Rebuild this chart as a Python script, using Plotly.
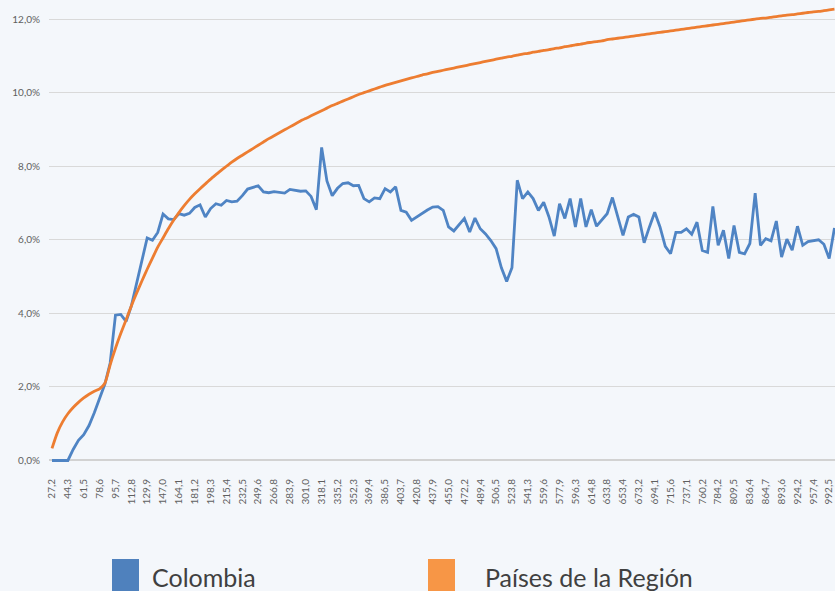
import plotly.graph_objects as go

tick_labels = ["27,2","44,3","61,5","78,6","95,7","112,8","129,9","147,0","164,1","181,2",
               "198,3","215,4","232,5","249,6","266,8","283,9","301,0","318,1","335,2","352,3",
               "369,4","386,5","403,7","420,8","437,9","455,0","472,2","489,4","506,5","523,8",
               "541,3","559,6","577,9","596,3","614,8","633,8","653,4","673,2","694,1","715,6",
               "737,1","760,2","784,2","809,5","836,4","864,7","893,6","924,2","957,4","992,5"]

y_tick_vals = [0, 2, 4, 6, 8, 10, 12]
y_tick_text = ["0,0%", "2,0%", "4,0%", "6,0%", "8,0%", "10,0%", "12,0%"]

colombia = [0, 0, 0, 0, 0.3, 0.55, 0.7, 0.95, 1.3, 1.7,
            2.08, 2.65, 3.95, 3.97, 3.78, 4.2, 4.8, 5.4, 6.05, 5.99,
            6.2, 6.7, 6.57, 6.55, 6.71, 6.67, 6.72, 6.88, 6.95, 6.62,
            6.85, 6.98, 6.94, 7.07, 7.03, 7.05, 7.2, 7.38, 7.42, 7.47,
            7.3, 7.28, 7.31, 7.29, 7.27, 7.37, 7.35, 7.32, 7.33, 7.18,
            6.82, 8.51, 7.6, 7.2, 7.4, 7.53, 7.55, 7.47, 7.48, 7.12,
            7.03, 7.14, 7.12, 7.39, 7.3, 7.44, 6.8, 6.75, 6.53, 6.63,
            6.73, 6.81, 6.89, 6.9, 6.8, 6.35, 6.24, 6.4, 6.58, 6.21,
            6.59, 6.3, 6.16, 5.98, 5.76, 5.24, 4.87, 5.24, 7.62, 7.12,
            7.3, 7.12, 6.8, 7.02, 6.62, 6.1, 6.98, 6.58, 7.12, 6.35,
            7.12, 6.35, 6.82, 6.37, 6.55, 6.71, 7.15, 6.64, 6.12, 6.62,
            6.69, 6.62, 5.92, 6.35, 6.75, 6.35, 5.82, 5.62, 6.2, 6.2,
            6.3, 6.15, 6.48, 5.71, 5.66, 6.91, 5.85, 6.26, 5.49, 6.39,
            5.66, 5.62, 5.9, 7.27, 5.85, 6.03, 5.97, 6.51, 5.53, 6.02,
            5.72, 6.37, 5.85, 5.95, 5.98, 6.0, 5.88, 5.49, 6.32]

region = [0.33, 0.75, 1.05, 1.27, 1.44, 1.58, 1.7, 1.8, 1.88, 1.95,
          2.1, 2.6, 3.05, 3.45, 3.82, 4.2, 4.55, 4.88, 5.2, 5.5,
          5.8, 6.05, 6.3, 6.53, 6.74, 6.93, 7.1, 7.25, 7.39, 7.52,
          7.65, 7.77, 7.89, 8.0, 8.11, 8.21, 8.3, 8.39, 8.48, 8.57,
          8.66, 8.75, 8.83, 8.91, 8.99, 9.07, 9.15, 9.23, 9.3, 9.37,
          9.44, 9.51, 9.58, 9.65, 9.71, 9.77, 9.83, 9.89, 9.95, 10.0,
          10.05, 10.1, 10.15, 10.2, 10.24, 10.28, 10.32, 10.36, 10.4, 10.44,
          10.48, 10.51, 10.55, 10.58, 10.61, 10.64, 10.67, 10.7, 10.73, 10.76,
          10.79, 10.82, 10.85, 10.88, 10.91, 10.94, 10.97, 10.99, 11.02, 11.05,
          11.07, 11.1, 11.12, 11.15, 11.17, 11.2, 11.22, 11.25, 11.27, 11.3,
          11.32, 11.35, 11.37, 11.39, 11.41, 11.44, 11.46, 11.48, 11.5, 11.52,
          11.54, 11.56, 11.58, 11.6, 11.62, 11.64, 11.66, 11.68, 11.7, 11.72,
          11.74, 11.76, 11.78, 11.8, 11.82, 11.84, 11.86, 11.88, 11.9, 11.92,
          11.94, 11.96, 11.98, 12.0, 12.02, 12.03, 12.05, 12.07, 12.09, 12.11,
          12.12, 12.14, 12.16, 12.18, 12.2, 12.21, 12.23, 12.25, 12.27]

series_names = ["Colombia", "Países de la Región"]
line_colors = ["#4f84c4", "#ed7d31"]
legend_colors = ["#4f81bd", "#f79646"]

x_idx = list(range(len(colombia)))
tick_step = 3

fig = go.Figure()
fig.add_trace(go.Scatter(x=x_idx, y=colombia, mode="lines", name=series_names[0],
                         line=dict(color=line_colors[0], width=2.8), showlegend=False))
fig.add_trace(go.Scatter(x=x_idx, y=region, mode="lines", name=series_names[1],
                         line=dict(color=line_colors[1], width=2.8, shape="spline", smoothing=0.6),
                         showlegend=False))

bg = "#f4f7fb"
L, B = 49, 125
tick_font = dict(family="Lato, Liberation Sans, sans-serif", size=10, color="#5f5f5f")
fig.update_layout(
    width=835, height=591,
    margin=dict(l=L, r=0, t=0, b=B, autoexpand=False),
    paper_bgcolor=bg, plot_bgcolor=bg,
    font=dict(family="Lato, Liberation Sans, sans-serif", color="#5f5f5f", size=10),
    xaxis=dict(range=[-0.57, 148.1], tickmode="array",
               tickvals=x_idx[::tick_step][:len(tick_labels)], ticktext=tick_labels,
               tickangle=-90, showgrid=False, zeroline=False, showline=False,
               ticks="outside", ticklen=8, tickcolor="rgba(0,0,0,0)", automargin=False,
               tickfont=tick_font),
    yaxis=dict(range=[-0.15, 12.52], tickmode="array", tickvals=y_tick_vals, ticktext=y_tick_text,
               showgrid=True, gridcolor="#d9d9d9", automargin=False,
               gridwidth=1, zeroline=True, zerolinecolor="#d2d2d2", zerolinewidth=1.5,
               ticks="outside", ticklen=6, tickcolor="rgba(0,0,0,0)",
               tickfont=tick_font),
)

# Legend (large square swatches below the plot)
plot_w = 835 - L
plot_h = 591 - B
def px_to_paper_x(px):
    return (px - L) / plot_w
def px_to_paper_y(py):
    return (plot_h - py) / plot_h

legend_x = [112, 428]
text_x = [150, 483]
for i in range(2):
    fig.add_shape(type="rect", xref="paper", yref="paper",
                  x0=px_to_paper_x(legend_x[i]), x1=px_to_paper_x(legend_x[i] + 27),
                  y0=px_to_paper_y(600), y1=px_to_paper_y(559),
                  fillcolor=legend_colors[i], line=dict(width=0))
    fig.add_annotation(xref="paper", yref="paper", x=px_to_paper_x(text_x[i]),
                       y=px_to_paper_y(577), xanchor="left", yanchor="middle",
                       text=series_names[i], showarrow=False,
                       font=dict(family="Lato, sans-serif", size=25, color="#404040"))

fig.write_html("out.html", config={"displayModeBar": False},
               post_script="document.body.style.margin='0';document.body.style.background='%s';" % bg)
